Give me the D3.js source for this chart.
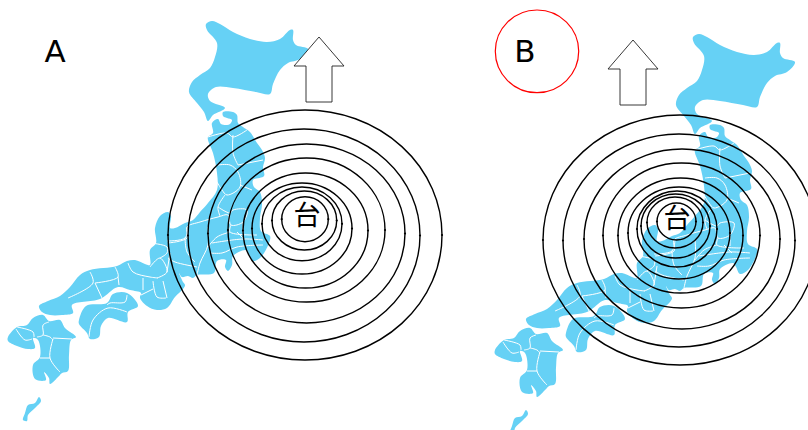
<!DOCTYPE html>
<html><head><meta charset="utf-8">
<style>html,body{margin:0;padding:0;background:#fff;overflow:hidden}svg{display:block}</style>
<script src="https://cdn.jsdelivr.net/npm/d3@7/dist/d3.min.js"></script></head><body>
<script>
const hokkaido=[[206,24],[212,21],[220,24],[233,32],[250,39],[267,42],[280,39],[290,30],[293,30],[293,40],[296,45],[308,49],[300,59],[288,63],[280,70],[273,84],[270,94],[256,92],[233,88],[216,87],[208,94],[210,101],[225,108],[213,115],[208,121],[204,112],[197,103],[189,92],[192,82],[200,75],[210,68],[215,57],[217,43],[207,30]];
const honshu=[[212,123],[218,119],[221,124],[227,125],[230,124],[232,120],[227,118],[223,116],[223,112],[233,112],[237,115],[238,123],[243,127],[250,132],[257,143],[262,150],[265,158],[263,167],[264,176],[253,180],[254,187],[260,192],[262,204],[260,218],[261,231],[270,236],[269,243],[261,257],[253,261],[249,254],[246,250],[233,256],[232,265],[228,271],[225,267],[226,260],[217,261],[214,273],[197,275],[193,278],[188,276],[182,277],[179,273],[183,282],[185,285],[183,289],[175,297],[167,308],[157,310],[147,306],[140,298],[141,293],[130,290],[118,287],[100,299],[72,305],[73,313],[62,315],[50,315],[42,312],[39,306],[48,301],[60,296],[70,287],[80,275],[90,270],[117,266],[127,261],[135,260],[145,264],[150,265],[150,250],[156,243],[155,228],[160,216],[168,212],[171,216],[170,228],[175,228],[185,223],[193,220],[200,212],[208,203],[217,190],[217,173],[213,153],[208,140],[208,137],[213,133]];
const shikoku=[[79,320],[86,306],[107,303],[113,294],[127,293],[138,306],[128,312],[127,322],[108,318],[101,326],[99,337],[90,339],[87,333],[79,324]];
const kyushu=[[8,337],[17,327],[27,325],[33,318],[43,315],[49,321],[60,320],[65,328],[76,337],[71,340],[69,355],[68,371],[62,373],[59,376],[50,384],[49,378],[44,372],[46,380],[35,379],[33,365],[40,357],[38,340],[33,338],[35,348],[28,349],[17,346],[8,341]];
const okinawa=[[39,397],[41,401],[35,408],[28,415],[27,421],[23,420],[25,413],[28,405],[35,403]];
const landAreas=[hokkaido,honshu,shikoku,kyushu,okinawa];
const borders=[
[[208,137],[227,133],[233,137],[247,130]],
[[233,135],[233,153],[238,165]],
[[238,165],[263,160]],
[[218,165],[230,165],[238,172],[240,187],[227,195],[222,190],[217,182]],
[[240,185],[252,190]],
[[225,195],[218,207],[220,216]],
[[218,207],[230,213],[233,210],[247,210],[243,222],[231,225],[228,215],[218,217],[200,222],[187,227],[187,238],[168,243]],
[[208,227],[208,245],[200,263],[197,275]],
[[230,232],[217,237],[208,247]],
[[231,225],[230,232],[257,235]],
[[212,243],[243,239],[263,240]],
[[210,253],[222,253],[237,247],[263,245]],
[[237,232],[245,240]],
[[243,223],[243,233]],
[[167,241],[185,238],[188,227]],
[[185,238],[187,252],[195,262]],
[[168,258],[175,262],[197,267]],
[[170,253],[167,272]],
[[150,243],[167,247],[167,253],[160,258]],
[[150,267],[160,258],[167,272],[157,278]],
[[68,298],[93,283],[90,272]],
[[95,283],[118,277],[115,267]],
[[95,283],[102,298]],
[[118,277],[119,285]],
[[128,263],[133,272],[150,277],[158,278]],
[[143,278],[143,290]],
[[153,281],[157,297],[166,298]],
[[163,281],[167,298]],
[[141,295],[153,289]],
[[89,337],[93,320],[108,308],[127,312]],
[[107,305],[110,303],[125,302],[127,295]],
[[16,329],[25,340],[32,339]],
[[17,327],[33,332],[34,337]],
[[37,337],[43,335],[43,325],[49,322]],
[[43,335],[50,337],[53,340]],
[[53,338],[72,339]],
[[53,339],[50,358],[60,372]],
[[40,358],[50,358]]
];
// ring extents: left, right, top, bottom
const ringsA=[[281.7,328.3,196.7,241.7],[272,336.7,191,250],[262,342,187,260.7],[252,352,183,274],[243,368,173,288],[228,385,158,302],[208,405,144,323],[188,420,129,342],[168,442,110,360]];
const ringsB=[[657,696,203,240],[647,703,197,248],[641,710,194,258],[637,717,191,267],[628,730,187,279],[618,743,178,293],[603,760,163,308],[584,780,149,329],[563,795,134,347],[543,817,115,365]];
const arrowShape=[[319,37],[344,66],[332,66],[332,102],[306,102],[306,66],[294,66]];
const panelLabels=["A","B"];
const stormLabel="台";
const markerRing=[495.3,578.7,10,92.7];

const svg=d3.select("body").append("svg").attr("width",808).attr("height",430);
const landColor="#66d1f5";
function drawPanel(dx,dy,rings,adx,ady){
  const x=d3.scaleLinear().domain([0,808]).range([dx,808+dx]);
  const y=d3.scaleLinear().domain([0,430]).range([dy,430+dy]);
  const g=svg.append("g");
  const outline=d3.line().x(d=>x(d[0])).y(d=>y(d[1])).curve(d3.curveCatmullRomClosed.alpha(0.5));
  const seg=d3.line().x(d=>x(d[0])).y(d=>y(d[1])).curve(d3.curveCatmullRom.alpha(0.5));
  g.selectAll("path.land").data(landAreas).join("path").attr("class","land").attr("d",outline).attr("fill",landColor);
  g.selectAll("path.border").data(borders).join("path").attr("class","border").attr("d",seg).attr("fill","none").attr("stroke","#fff").attr("stroke-width",1);
  const poly=d3.line().x(d=>d[0]+adx).y(d=>d[1]+ady).curve(d3.curveLinearClosed);
  svg.append("path").datum(arrowShape).attr("d",poly).attr("fill","#fff").attr("stroke","#222").attr("stroke-width",0.9);
  const rg=svg.append("g");
  rg.selectAll("ellipse").data(rings).join("ellipse")
    .attr("cx",d=>(d[0]+d[1])/2).attr("cy",d=>(d[2]+d[3])/2)
    .attr("rx",d=>(d[1]-d[0])/2).attr("ry",d=>(d[3]-d[2])/2)
    .attr("fill","none").attr("stroke","#000").attr("stroke-width",1.4);
  rg.selectAll("circle").data(rings.flatMap(d=>[[d[0],(d[2]+d[3])/2],[d[1],(d[2]+d[3])/2]])).join("circle")
    .attr("cx",d=>d[0]).attr("cy",d=>d[1]).attr("r",1.1).attr("fill","#000");
}
drawPanel(0,0,ringsA,0,0);
drawPanel(487,13,ringsB,314,3);
const T="'DejaVu Sans',sans-serif";
svg.append("text").text(panelLabels[0]).attr("x",55).attr("y",62).attr("text-anchor","middle").attr("font-family",T).attr("font-size",31).attr("fill","#000");
svg.append("text").text(panelLabels[1]).attr("x",525).attr("y",62).attr("text-anchor","middle").attr("font-family",T).attr("font-size",31).attr("fill","#000");
svg.append("ellipse").attr("cx",(markerRing[0]+markerRing[1])/2).attr("cy",(markerRing[2]+markerRing[3])/2).attr("rx",(markerRing[1]-markerRing[0])/2).attr("ry",(markerRing[3]-markerRing[2])/2).attr("fill","none").attr("stroke","#f00").attr("stroke-width",1.2);
[[307,225],[677,228]].forEach(p=>{
 svg.append("text").text(stormLabel).attr("x",p[0]).attr("y",p[1]).attr("text-anchor","middle").attr("font-family","'Noto Sans CJK JP'").attr("font-size",27).attr("fill","#000");
});
</script></body></html>
